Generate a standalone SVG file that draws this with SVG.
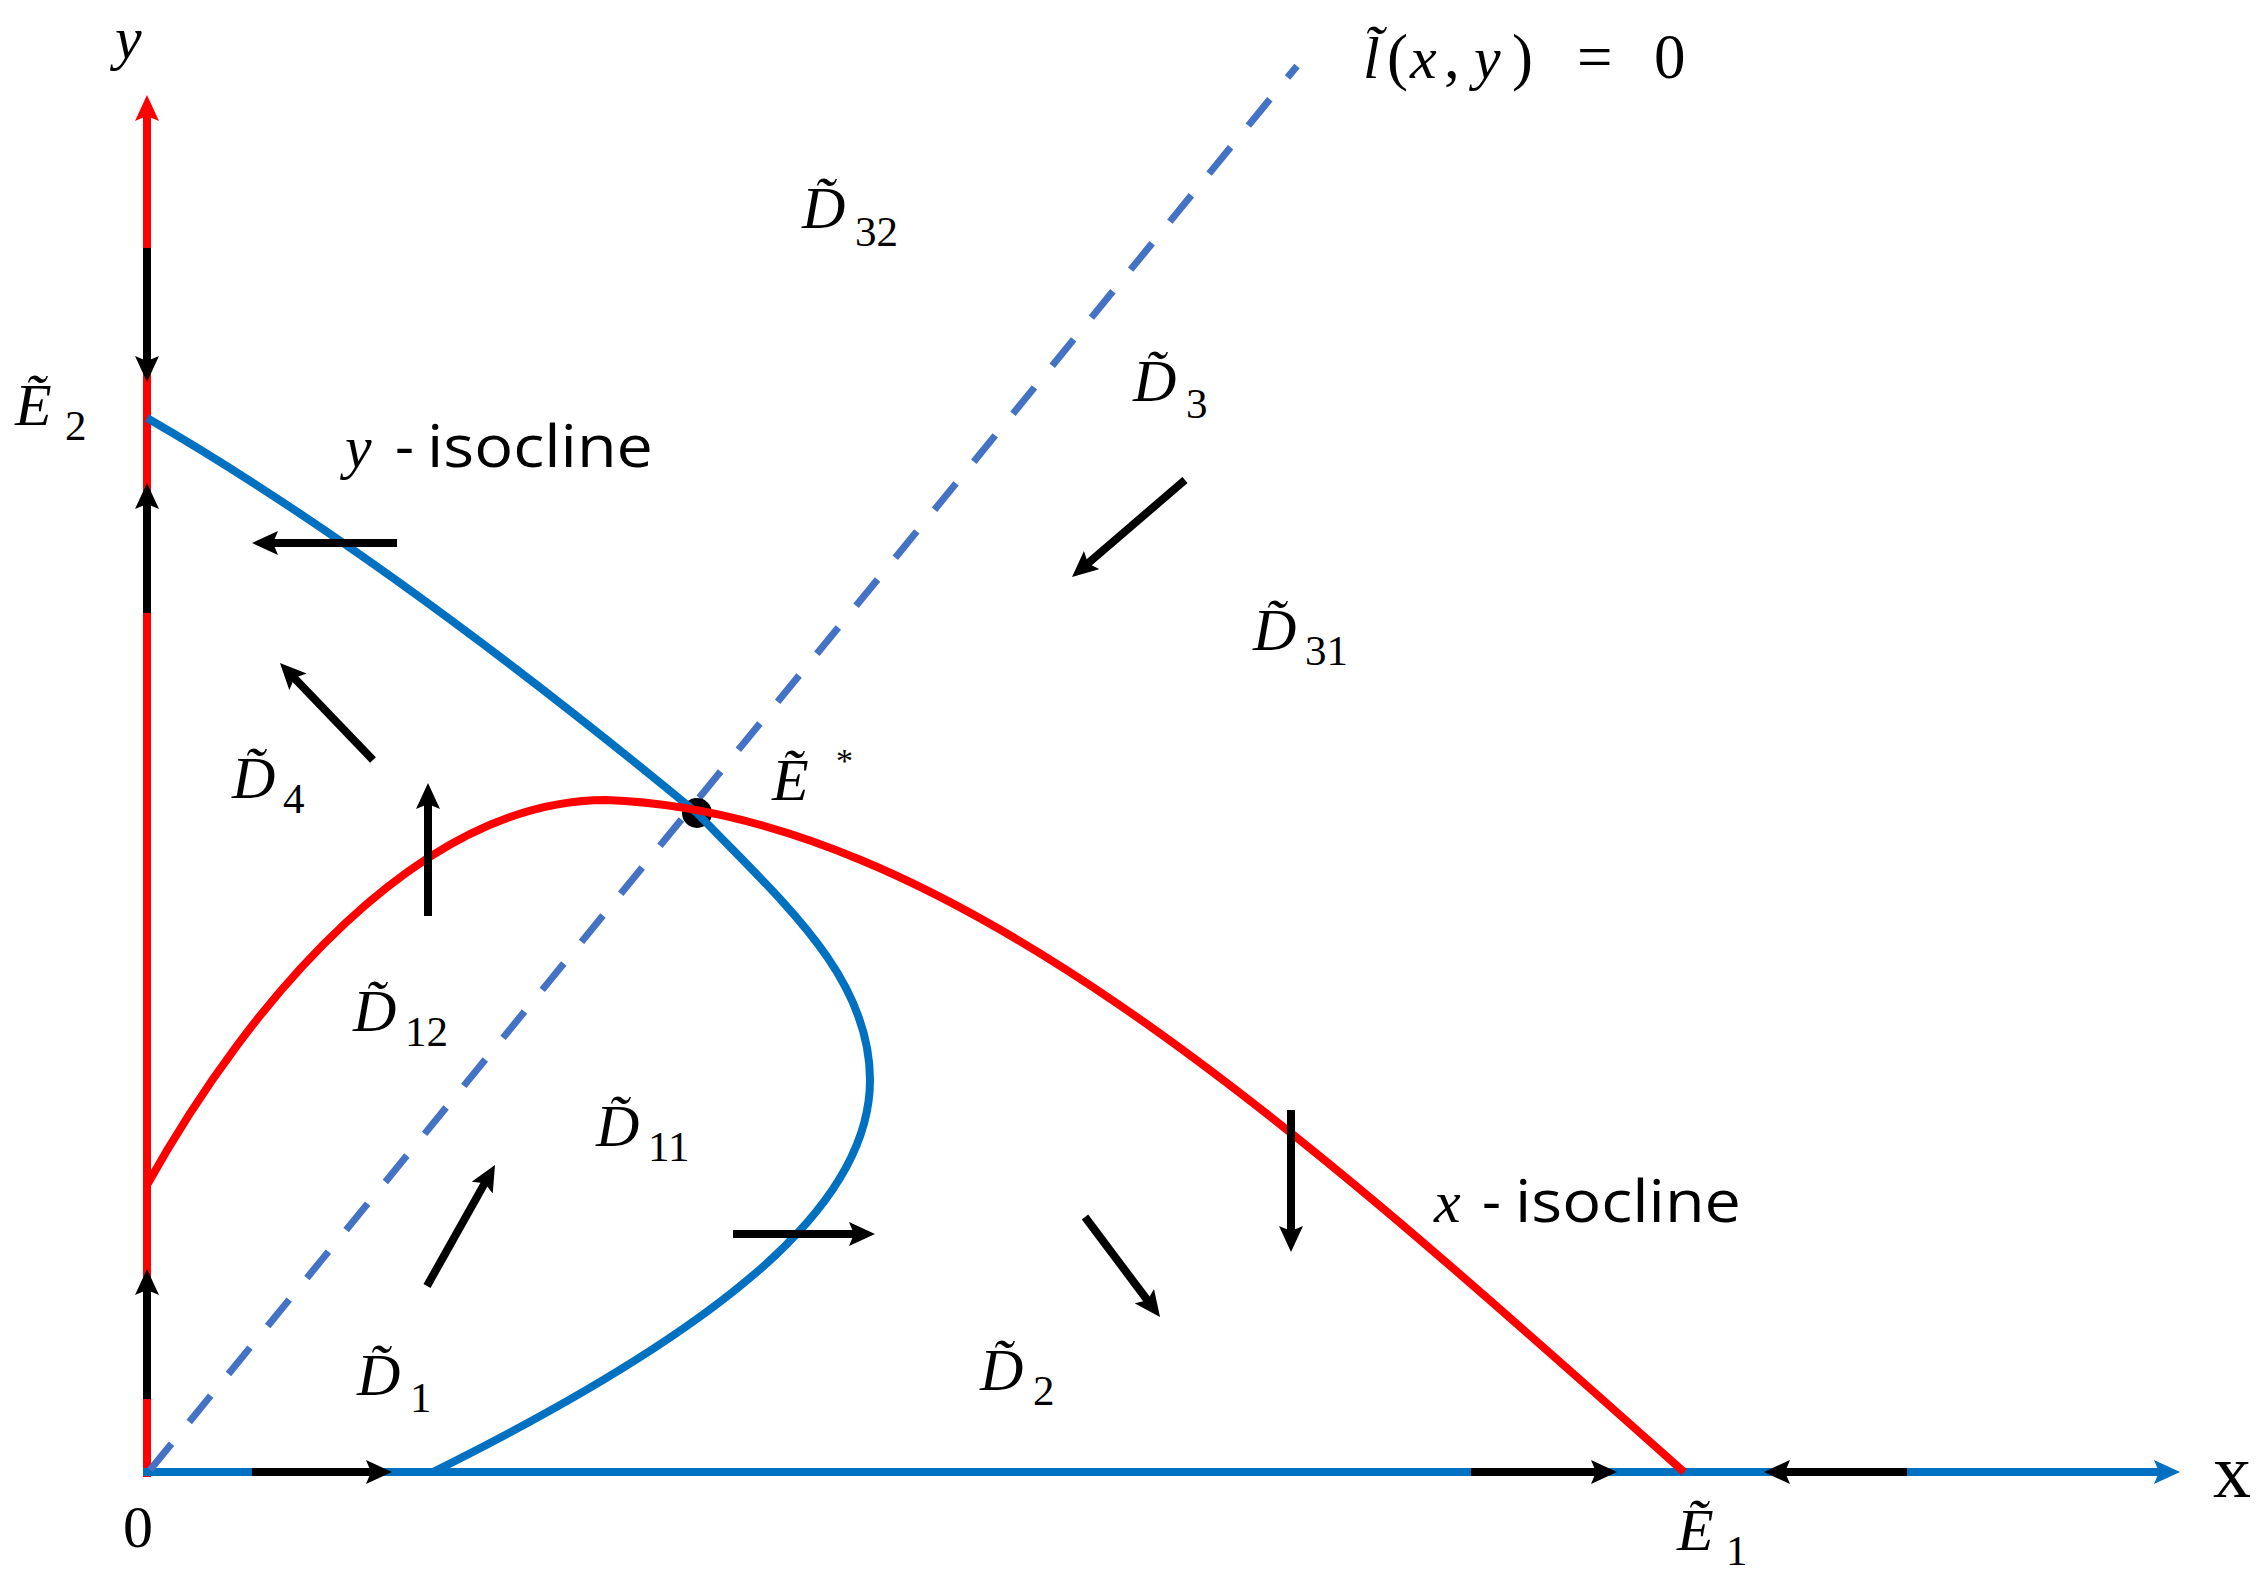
<svg xmlns="http://www.w3.org/2000/svg" width="2261" height="1584" viewBox="0 0 2261 1584">
<style>
.math{font-family:"Liberation Serif","DejaVu Serif",serif;font-style:italic;font-size:60px;fill:#000}
.sub{font-family:"Liberation Serif","DejaVu Serif",serif;font-style:normal;font-size:43px;fill:#000}
.num{font-family:"Liberation Serif","DejaVu Serif",serif;font-style:normal;fill:#000}
.sans{font-family:"Open Sans","Noto Sans","Liberation Sans",sans-serif;font-size:59px;fill:#000}
.arr{stroke:#000;stroke-width:8;fill:none;marker-end:url(#ahk)}
.crv{fill:none;stroke-width:8;stroke-linecap:butt}
</style>
<defs>
<marker id="ahk" viewBox="0 0 26 24" refX="6" refY="12" markerWidth="26" markerHeight="24" markerUnits="userSpaceOnUse" orient="auto"><path d="M0,0 L26,12 L0,24 L5,12 z" fill="#000"/></marker>
<marker id="ahr" viewBox="0 0 26 24" refX="6" refY="12" markerWidth="26" markerHeight="24" markerUnits="userSpaceOnUse" orient="auto"><path d="M0,0 L26,12 L0,24 L5,12 z" fill="#FF0000"/></marker>
<marker id="ahb" viewBox="0 0 26 24" refX="6" refY="12" markerWidth="26" markerHeight="24" markerUnits="userSpaceOnUse" orient="auto"><path d="M0,0 L26,12 L0,24 L5,12 z" fill="#0070C0"/></marker>
</defs>
<rect width="2261" height="1584" fill="#fff"/>
<g id="connectors">
  <line x1="147" y1="1477" x2="147" y2="115" stroke="#FF0000" stroke-width="8" marker-end="url(#ahr)"/>
  <line x1="143" y1="1472" x2="2160" y2="1472" stroke="#0070C0" stroke-width="8" marker-end="url(#ahb)"/>
  <line class="arr" x1="147" y1="248" x2="147" y2="362"/>
  <line class="arr" x1="147" y1="613" x2="147" y2="503"/>
  <line class="arr" x1="147" y1="1399" x2="147" y2="1289"/>
  <line class="arr" x1="252" y1="1472" x2="372" y2="1472"/>
  <line class="arr" x1="1471" y1="1472" x2="1597" y2="1472"/>
  <line class="arr" x1="1907" y1="1472" x2="1784" y2="1472"/>
  <line x1="150" y1="1470" x2="1297" y2="66" stroke="#4472C4" stroke-width="7" stroke-dasharray="34 28"/>
  <circle cx="697" cy="813" r="15" fill="#000"/>
  <path class="crv" stroke="#0070C0" d="M147,418 C350,535 560,700 697,813 C780,900 870,975 870,1080 C870,1190 760,1310 433,1472"/>
  <path class="crv" stroke="#FF0000" d="M147,1185 C250,1000 420,800 606,800 C950,812 1300,1130 1684,1472"/>
  <line class="arr" x1="397" y1="543" x2="272" y2="543"/>
  <line class="arr" x1="373" y1="760" x2="293.8" y2="677.4"/>
  <line class="arr" x1="428" y1="916" x2="428" y2="803"/>
  <line class="arr" x1="427" y1="1286" x2="485.2" y2="1182.4"/>
  <line class="arr" x1="733" y1="1234" x2="855" y2="1234"/>
  <line class="arr" x1="1085" y1="1217" x2="1148" y2="1301"/>
  <line class="arr" x1="1291" y1="1110" x2="1291" y2="1232"/>
  <line class="arr" x1="1185" y1="480" x2="1087.2" y2="564"/>
</g>
<g id="label-y"><text class="math" x="115" y="58">y</text></g>
<g id="label-x"><text class="num" x="2213" y="1497" font-size="76">x</text></g>
<g id="label-origin"><text class="num" x="123" y="1547" font-size="60">0</text></g>
<g id="label-l"><text class="num" font-size="63" y="78"><tspan class="math" x="1363" font-size="63">l̃</tspan><tspan x="1387">(</tspan><tspan class="math" x="1410" font-size="63">x</tspan><tspan x="1444">,</tspan><tspan class="math" x="1474" font-size="63">y</tspan><tspan x="1512">)</tspan><tspan x="1577">=</tspan><tspan x="1654">0</tspan></text></g>
<g id="label-E2"><text class="math" x="15" y="425">Ẽ</text><text class="sub" x="65" y="440">2</text></g>
<g id="label-E1"><text class="math" x="1677" y="1550">Ẽ</text><text class="sub" x="1726" y="1565">1</text></g>
<g id="label-Estar"><text class="math" x="772" y="800">Ẽ</text><text class="num" x="836" y="772" font-size="34">*</text></g>
<g id="label-D32"><text class="math" x="802" y="228">D̃</text><text class="sub" x="855" y="246">32</text></g>
<g id="label-D3"><text class="math" x="1133" y="401">D̃</text><text class="sub" x="1186" y="418">3</text></g>
<g id="label-D31"><text class="math" x="1253" y="650">D̃</text><text class="sub" x="1305" y="665">31</text></g>
<g id="label-D4"><text class="math" x="232" y="798">D̃</text><text class="sub" x="283" y="813">4</text></g>
<g id="label-D12"><text class="math" x="353" y="1031">D̃</text><text class="sub" x="405" y="1046">12</text></g>
<g id="label-D11"><text class="math" x="596" y="1146">D̃</text><text class="sub" x="648" y="1161">11</text></g>
<g id="label-D1"><text class="math" x="357" y="1395">D̃</text><text class="sub" x="410" y="1412">1</text></g>
<g id="label-D2"><text class="math" x="980" y="1390">D̃</text><text class="sub" x="1033" y="1405">2</text></g>
<g id="label-yiso"><text class="math" x="345" y="467" font-size="66">y</text><text class="sans" x="395" y="467">-</text><text class="sans" x="427" y="467" textLength="226" lengthAdjust="spacingAndGlyphs">isocline</text></g>
<g id="label-xiso"><text class="math" x="1434" y="1222" font-size="66">x</text><text class="sans" x="1482" y="1222">-</text><text class="sans" x="1515" y="1222" textLength="226" lengthAdjust="spacingAndGlyphs">isocline</text></g>
</svg>
